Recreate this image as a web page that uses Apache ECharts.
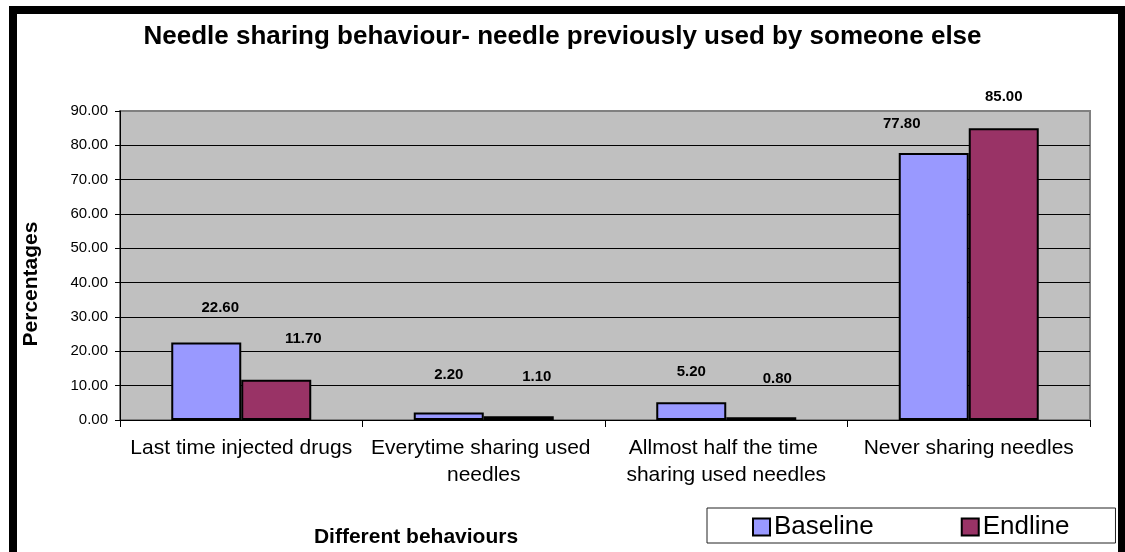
<!DOCTYPE html>
<html>
<head>
<meta charset="utf-8">
<script src="https://cdn.jsdelivr.net/npm/echarts@6/dist/echarts.min.js"></script>
<style>
html,body{margin:0;padding:0;background:#fff;}
#chart{width:1125px;height:552px;}
</style>
</head>
<body>
<div id="chart"></div>
<script>
// ---- data ----
const categories = [
  "Last time injected drugs",
  "Everytime sharing used needles",
  "Allmost half the time sharing used needles",
  "Never sharing needles"
];
const baseline = [22.60, 2.20, 5.20, 77.80];
const endline = [11.70, 1.10, 0.80, 85.00];
const seriesNames = ["Baseline", "Endline"];
const yTicks = [0, 10, 20, 30, 40, 50, 60, 70, 80, 90];
const titleText = "Needle sharing behaviour- needle previously used by someone else";
const xTitle = "Different behaviours";
const yTitle = "Percentages";

// ---- style / layout (not data) ----
const FONT = "'Liberation Sans', Arial, sans-serif";
const baseLabelOffsets = [[14, -22], [0, -25], [0, -18], [-32, -17]];
const endLabelOffsets = [[27, -28], [18, -27], [16, -26], [0, -19]];

function mkData(vals, offs) {
  return vals.map((v, i) => ({ value: v, label: { offset: offs[i] } }));
}

const chart = echarts.init(document.getElementById('chart'), null, { renderer: 'canvas' });
const labelStyle = {
  show: true, position: 'top', distance: 5,
  fontFamily: FONT, fontSize: 15, fontWeight: 'bold', color: '#000',
  formatter: p => Number(p.value).toFixed(2)
};
chart.setOption({
  animation: false,
  backgroundColor: '#fff',
  title: {
    text: titleText, left: 'center', top: 19,
    textStyle: { fontFamily: FONT, fontSize: 26, fontWeight: 'bold', color: '#000' }
  },
  legend: {
    data: seriesNames,
    left: 707, top: 508,
    padding: [6, 46, 3, 45],
    itemGap: 87, itemWidth: 17, itemHeight: 17,
    borderColor: '#222', borderWidth: 1, backgroundColor: '#fff',
    icon: 'rect',
    textStyle: { fontFamily: FONT, fontSize: 26, color: '#000', padding: [0, 0, 0, -1] }
  },
  grid: {
    left: 120, right: 35, top: 111, bottom: 132,
    show: true, backgroundColor: '#C0C0C0', borderColor: '#808080', borderWidth: 2
  },
  xAxis: {
    type: 'category', data: categories,
    axisLine: { lineStyle: { color: '#000', width: 1 } },
    axisTick: { show: true, alignWithLabel: false, length: 7, lineStyle: { color: '#000' } },
    axisLabel: {
      interval: 0, margin: 15, color: '#000', fontFamily: FONT, fontSize: 21,
      lineHeight: 27, width: 238, overflow: 'break'
    }
  },
  yAxis: {
    type: 'value', min: yTicks[0], max: yTicks[yTicks.length - 1], interval: yTicks[1] - yTicks[0],
    axisLine: { show: true, lineStyle: { color: '#000', width: 1 } },
    axisTick: { show: true, length: 5, lineStyle: { color: '#000' } },
    splitLine: { showMaxLine: false, lineStyle: { color: '#000', width: 1 } },
    axisLabel: { margin: 12, color: '#000', fontFamily: FONT, fontSize: 15, formatter: v => v.toFixed(2) }
  },
  series: [
    {
      name: seriesNames[0], type: 'bar', data: mkData(baseline, baseLabelOffsets),
      barWidth: 70, barGap: '0%',
      itemStyle: { color: '#9999FF', borderColor: '#000', borderWidth: 2 },
      label: labelStyle
    },
    {
      name: seriesNames[1], type: 'bar', data: mkData(endline, endLabelOffsets),
      barWidth: 70, barGap: '0%',
      itemStyle: { color: '#993366', borderColor: '#000', borderWidth: 2 },
      label: labelStyle
    }
  ],
  graphic: [
    {
      type: 'rect', silent: true, z: 100,
      shape: { x: 13, y: 10, width: 1109, height: 700 },
      style: { fill: 'none', stroke: '#000', lineWidth: 8 }
    },
    {
      type: 'text', x: 31, y: 284, rotation: Math.PI / 2,
      style: { text: yTitle, fontFamily: FONT, fontSize: 21, fontWeight: 'bold', fill: '#000',
               align: 'center', verticalAlign: 'middle' }
    },
    {
      type: 'text', x: 416, y: 537,
      style: { text: xTitle, fontFamily: FONT, fontSize: 21, fontWeight: 'bold', fill: '#000',
               align: 'center', verticalAlign: 'middle' }
    }
  ]
});
</script>
</body>
</html>
